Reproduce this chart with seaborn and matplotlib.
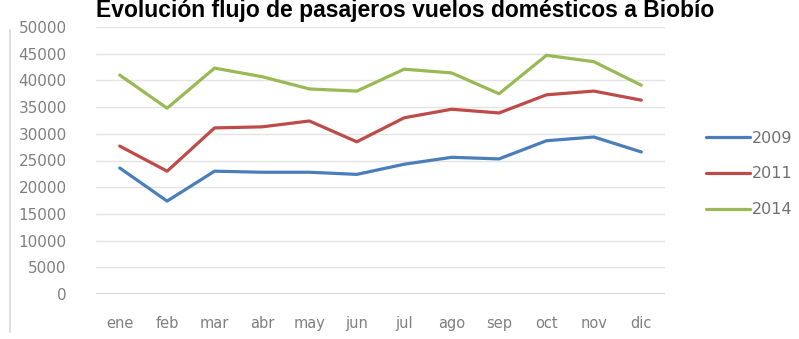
import matplotlib
matplotlib.use("Agg")
import matplotlib.pyplot as plt
from matplotlib.lines import Line2D
import seaborn as sns
import pandas as pd

months = ["ene", "feb", "mar", "abr", "may", "jun", "jul", "ago", "sep", "oct", "nov", "dic"]
years = ["2009", "2011", "2014"]
pax_2009 = [23600, 17400, 23000, 22800, 22800, 22400, 24300, 25600, 25300, 28700, 29400, 26600]
pax_2011 = [27700, 23000, 31100, 31300, 32400, 28500, 33000, 34600, 33900, 37300, 38000, 36300]
pax_2014 = [41000, 34800, 42300, 40700, 38400, 38000, 42100, 41400, 37500, 44700, 43500, 39100]
y_ticks = [0, 5000, 10000, 15000, 20000, 25000, 30000, 35000, 40000, 45000, 50000]
colors = ["#4a7ebb", "#be4b48", "#98b954"]

df = pd.DataFrame({
    "mes": months * 3,
    "idx": list(range(12)) * 3,
    "pasajeros": pax_2009 + pax_2011 + pax_2014,
    "año": [years[0]] * 12 + [years[1]] * 12 + [years[2]] * 12,
})

sns.set_theme(style="white")
plt.rcParams["font.family"] = ["DejaVu Sans"]

fig = plt.figure(figsize=(7.99, 3.39), dpi=100)
ax = fig.add_axes([96 / 799, 1 - 294 / 339, (665 - 96) / 799, (294 - 27) / 339])

sns.lineplot(data=df, x="idx", y="pasajeros", hue="año", palette=colors,
             linewidth=2.3, ax=ax, legend=False, sort=False)

ax.set_xlim(-0.5, 11.5)
ax.set_ylim(0, 50000)
ax.set_yticks(y_ticks)
ax.set_yticklabels([str(v) for v in y_ticks])
ax.set_xticks(range(12))
ax.set_xticklabels(months)
ax.set_xlabel("")
ax.set_ylabel("")
ax.grid(axis="y", color="#e3e3e3", linewidth=1.0)
ax.set_axisbelow(True)
for s in ax.spines.values():
    s.set_visible(False)
ax.axhline(0, color="#d0d0d0", linewidth=1.2, zorder=1)
ax.tick_params(axis="both", length=0, labelcolor="#808080")
ax.tick_params(axis="y", pad=21, labelsize=11)
ax.tick_params(axis="x", pad=16, labelsize=10.5)

handles = [Line2D([0], [0], color=c, linewidth=2.3) for c in colors]
fig.legend(handles, years, loc="center left", bbox_to_anchor=(692 / 799, 1 - 174 / 339),
           frameon=False, fontsize=11.5, labelcolor="#707070", handlelength=2.7,
           handletextpad=0.15, labelspacing=1.3)

fig.text(405 / 799, 1 - 17 / 339, "Evolución flujo de pasajeros vuelos domésticos a Biobío",
         ha="center", va="baseline", fontsize=16.5, fontweight="bold", color="black",
         family=["Liberation Sans", "DejaVu Sans"])

fig.add_artist(Line2D([10 / 799, 10 / 799], [1 - 30 / 339, 1 - 332 / 339],
                      transform=fig.transFigure, color="#d8d8d8", linewidth=1.2))

fig.savefig("out.png", dpi=100)
